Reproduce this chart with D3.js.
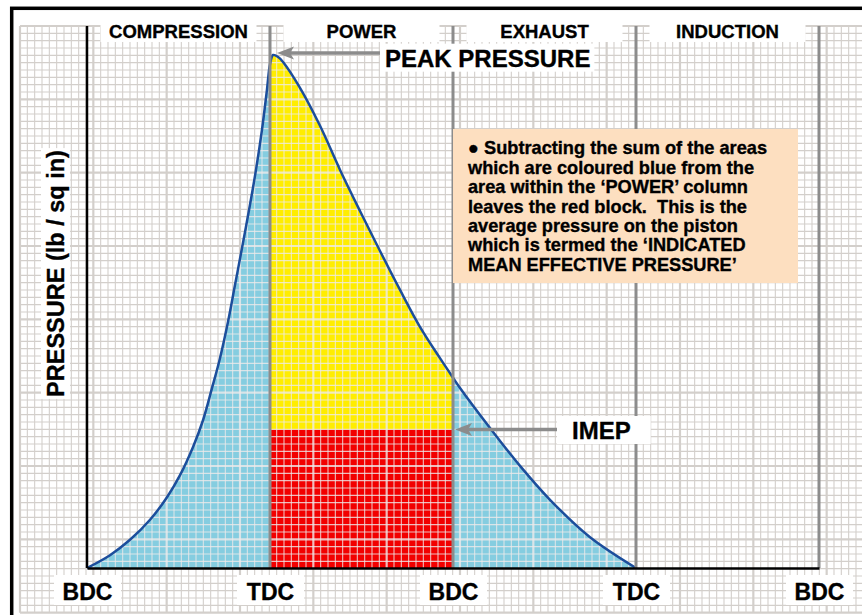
<!DOCTYPE html>
<html>
<head>
<meta charset="utf-8">
<script src="https://cdn.jsdelivr.net/npm/d3@7"></script>
<style>
  body { margin: 0; background: #fff; }
  svg text { font-family: "Liberation Sans", Arial, sans-serif; font-weight: bold; fill: #000; stroke: #000; stroke-width: 0.35px; }
</style>
</head>
<body>
<svg id="svg" width="862" height="615"></svg>
<script>
// four strokes of the engine, crank angle in degrees
const strokeAngles = [0, 180, 360, 540, 720];
const strokeLabels = ["BDC", "TDC", "BDC", "TDC", "BDC"];
const strokeNames = ["COMPRESSION", "POWER", "EXHAUST", "INDUCTION"];

// pressure curve (peak = 100)
const crankAngle = [0, 22.6, 42.3, 62.0, 78.7, 91.5, 104.3, 114.1, 123.0, 130.8, 138.7, 145.6, 152.5, 160.3, 166.2, 172.1, 177.0, 180,
  183, 188, 193, 209.5, 229.2, 248.9, 268.5, 288.2, 307.9, 327.5, 347.2, 360, 366.9, 396.4, 425.9, 455.4, 494.8, 540];
const pressure = [0, 2.5, 5.5, 9.4, 13.8, 18.1, 23.6, 28.8, 35.1, 40.9, 48.0, 55.2, 62.4, 70.8, 77.6, 85.4, 93.2, 98.2,
  100, 99.6, 98.6, 93.6, 86.2, 77.6, 69.6, 61.8, 54.2, 47.0, 40.9, 37.1, 35.1, 27.3, 19.9, 13.3, 6.0, 0];
const imep = 27;

const noteLines = [
  "\u25CF Subtracting the sum of the areas",
  "which are coloured blue from the",
  "area within the \u2018POWER\u2019 column",
  "leaves the red block.  This is the",
  "average pressure on the piston",
  "which is termed the \u2018INDICATED",
  "MEAN EFFECTIVE PRESSURE\u2019"
];

const svg = d3.select("#svg");
const x = d3.scaleLinear().domain([0, 720]).range([87, 819]);
const y = d3.scaleLinear().domain([0, 100]).range([568, 55]);
const pts = crankAngle.map((a, i) => [a, pressure[i]]);

const gridGray = "#d3cfcb";
const lineGray = "#8c8c8c";

svg.append("rect").attr("width", 862).attr("height", 615).attr("fill", "#fff");

// graph paper grid
const step = 73.333 / 10, gx0 = 20, gy0 = 26, gx1 = 862, gy1 = 612.7;
function drawGrid(g, color, op) {
  d3.range(0, Math.floor((gx1 - gx0) / step) + 1).forEach(i => {
    const xx = gx0 + i * step;
    g.append("line").attr("x1", xx).attr("x2", xx).attr("y1", gy0).attr("y2", gy1)
      .attr("stroke", color).attr("stroke-opacity", op).attr("stroke-width", i % 10 == 0 ? 2.2 : 1.1);
  });
  d3.range(0, Math.round((gy1 - gy0) / step) + 1).forEach(i => {
    const yy = gy0 + i * step;
    g.append("line").attr("x1", gx0).attr("x2", gx1).attr("y1", yy).attr("y2", yy)
      .attr("stroke", color).attr("stroke-opacity", op).attr("stroke-width", i % 10 == 0 ? 2.2 : 1.1);
  });
}
drawGrid(svg.append("g"), gridGray, 1);

// areas
const curve = d3.curveCatmullRom.alpha(0.5);
const area = d3.area().x(d => x(d[0])).y0(y(0)).y1(d => y(d[1])).curve(curve);
const line = d3.line().x(d => x(d[0])).y(d => y(d[1])).curve(curve);

const defs = svg.append("defs");
defs.append("clipPath").attr("id", "powerClip").append("rect")
  .attr("x", x(180)).attr("y", 0).attr("width", x(360) - x(180)).attr("height", 615);
defs.append("clipPath").attr("id", "areaClip").append("path").attr("d", area(pts));

svg.append("path").attr("d", area(pts)).attr("fill", "#85cde0");
svg.append("path").attr("d", area(pts)).attr("fill", "#ffed00").attr("clip-path", "url(#powerClip)");
svg.append("rect").attr("x", x(180)).attr("y", y(imep))
  .attr("width", x(360) - x(180)).attr("height", y(0) - y(imep)).attr("fill", "#f20000");

// grid shows through the coloured areas as light lines
drawGrid(svg.append("g").attr("clip-path", "url(#areaClip)"), "#eeeaea", 0.8);

svg.append("path").attr("d", line(pts)).attr("fill", "none").attr("stroke", "#1c4e9c")
  .attr("stroke-width", 2.5).attr("stroke-linejoin", "round");

// stroke boundaries
svg.selectAll(".vline").data(strokeAngles).join("line")
  .attr("x1", d => x(d)).attr("x2", d => x(d)).attr("y1", gy0).attr("y2", y(0))
  .attr("stroke", (d, i) => i == 0 ? "#000" : lineGray).attr("stroke-width", (d, i) => i == 0 ? 2.5 : 3);

// x axis: baseline + BDC/TDC labels
const xAxis = svg.append("g").attr("transform", `translate(0,${y(0)})`)
  .call(d3.axisBottom(x).tickValues(strokeAngles).tickFormat((d, i) => strokeLabels[i])
    .tickSize(0).tickSizeOuter(0).tickPadding(15.5));
xAxis.select(".domain").attr("stroke", "#000").attr("stroke-width", 2.5);
xAxis.selectAll(".tick").insert("rect", "text")
  .attr("x", -33.5).attr("y", 7).attr("width", 67).attr("height", 30).attr("fill", "#fff");
xAxis.selectAll(".tick text").attr("font-size", 23).attr("fill", "#000")
  .style("font-family", '"Liberation Sans", Arial, sans-serif').style("font-weight", "bold");

// stroke names across the top
const heads = svg.selectAll(".head").data(strokeNames).join("g")
  .attr("transform", (d, i) => `translate(${(x(strokeAngles[i]) + x(strokeAngles[i + 1])) / 2},0)`);
heads.append("rect").attr("x", -78).attr("y", 18).attr("width", 156).attr("height", 24).attr("fill", "#fff");
heads.append("text").attr("y", 37.5).attr("text-anchor", "middle").attr("font-size", 18.5).text(d => d);

// y axis title
const yl = svg.append("g").attr("transform", "translate(64,273.5) rotate(-90)");
const ylText = yl.append("text").attr("text-anchor", "middle").attr("font-size", 23.5).text("PRESSURE (lb / sq in)");
const yb = ylText.node().getBBox();
yl.insert("rect", "text").attr("x", yb.x - 2).attr("y", yb.y - 2).attr("width", yb.width + 4).attr("height", yb.height + 3).attr("fill", "#fff");

// arrows
function arrow(tipX, tailX, yy) {
  svg.append("line").attr("x1", tipX + 12).attr("x2", tailX).attr("y1", yy).attr("y2", yy)
    .attr("stroke", lineGray).attr("stroke-width", 3.5);
  svg.append("path").attr("d", `M${tipX},${yy}L${tipX + 17},${yy - 6.5}L${tipX + 13},${yy}L${tipX + 17},${yy + 6.5}Z`)
    .attr("fill", lineGray);
}
const iPeak = d3.maxIndex(pressure);
arrow(x(crankAngle[iPeak]) + 4, 380, y(pressure[iPeak]) - 2);
arrow(x(360) + 2, 557, y(imep));

// callout labels
function callout(tx, ty, txt, pad) {
  const g = svg.append("g");
  const t = g.append("text").attr("x", tx).attr("y", ty).attr("font-size", 24).text(txt);
  const b = t.node().getBBox();
  g.insert("rect", "text").attr("x", b.x - pad[0]).attr("y", b.y - pad[1])
    .attr("width", b.width + pad[0] + pad[2]).attr("height", b.height + pad[1] + pad[3]).attr("fill", "#fff");
}
callout(385, 66.7, "PEAK PRESSURE", [5, 1, 4, 0]);
callout(572, 439, "IMEP", [15, 1, 20, 0]);

// note box
svg.append("rect").attr("x", 453).attr("y", 129).attr("width", 345).attr("height", 154).attr("fill", "#fddfc0");
svg.append("g").selectAll("text").data(noteLines).join("text")
  .attr("x", 468).attr("y", (d, i) => 154.3 + i * 19.4).attr("font-size", 18.2)
  .style("white-space", "pre").text(d => d);

// frame
svg.append("rect").attr("x", 11.7).attr("y", 8.3).attr("width", 900).attr("height", 700)
  .attr("fill", "none").attr("stroke", "#000").attr("stroke-width", 3.5);
</script>
</body>
</html>
